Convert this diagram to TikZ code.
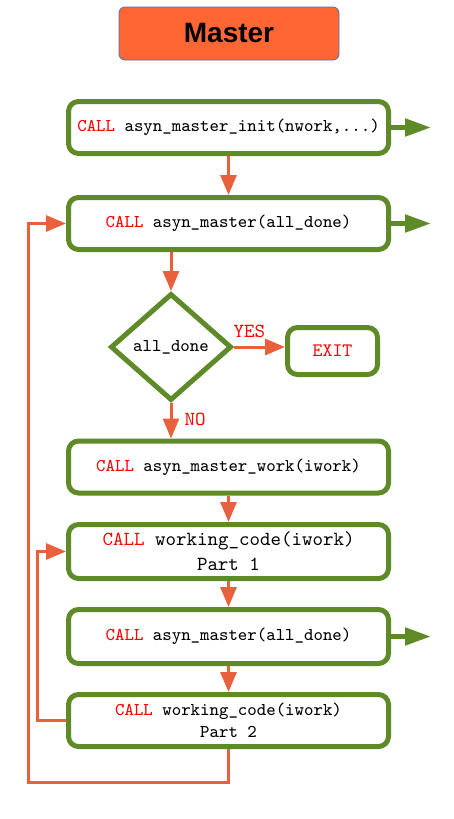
\documentclass[tikz,border=0pt]{standalone}
\usepackage{fontspec}
\newfontfamily\headfont{Liberation Sans}
\usepackage{tikz}
\usetikzlibrary{arrows.meta,shapes}
\usepackage{xcolor}
\definecolor{boxgreen}{HTML}{5E8A27}
\definecolor{flowred}{HTML}{E8603C}
\definecolor{headfill}{HTML}{FF6633}
\definecolor{headline}{HTML}{4A72B0}
\tikzset{
	flow/.style={draw=flowred, line width=1.5pt, -{Triangle[length=10pt,width=8pt]}},
	sendout/.style={draw=boxgreen, line width=2.5pt, -{Triangle[length=13pt,width=8.5pt]}}
}
\tikzstyle{callbox}=[draw=boxgreen, line width=2.5pt, rounded corners=5pt, fill=white, minimum width=160pt, minimum height=26pt, align=center, font=\fontsize{9}{11}\selectfont\ttfamily]
\tikzstyle{testbox}=[diamond, draw=boxgreen, line width=2.5pt, minimum width=60.5pt, minimum height=53.5pt, inner sep=0pt, font=\fontsize{9}{11}\selectfont\ttfamily]
\tikzstyle{flowlabel}=[text=red, font=\fontsize{10}{12}\selectfont\ttfamily, inner sep=1pt]
\newcommand{\callfn}[1]{\textcolor{red}{CALL} #1}

\begin{document}
\begin{tikzpicture}[x=0.5pt, y=-0.5pt]
	\useasboundingbox (0,0) rectangle (454,819);
	\node[draw=headline, fill=headfill, rounded corners=3pt, minimum width=110pt, minimum height=26.5pt, font=\fontsize{14}{16}\selectfont\headfont\bfseries] (head) at (229,33.5) {Master};
	\node[callbox] (init) at (228.5,127.5) {\callfn{asyn\_master\_init(nwork,...)}};
	\node[callbox] (poll) at (228.5,223.5) {\callfn{asyn\_master(all\_done)}};
	\node[testbox] (done) at (171,347) {all\_done};
	\node[draw=boxgreen, line width=2.5pt, rounded corners=5pt, minimum width=45pt, minimum height=23.5pt, text=red, font=\fontsize{9.5}{11}\selectfont\ttfamily] (exit) at (332.5,351) {EXIT};
	\node[callbox] (work) at (228.5,467) {\callfn{asyn\_master\_work(iwork)}};
	\node[callbox, minimum height=27pt, font=\fontsize{10}{12.5}\selectfont\ttfamily] (partone) at (228.5,551.5) {\callfn{working\_code(iwork)}\\Part 1};
	\node[callbox, minimum height=27pt] (polltwo) at (228.5,636.5) {\callfn{asyn\_master(all\_done)}};
	\node[callbox] (parttwo) at (228.5,720.5) {\callfn{working\_code(iwork)}\\Part 2};
	\coordinate (outer) at (28,782);
	\coordinate (inner) at (37,720.5);
	% down the column
	\draw[flow] (init) -- (poll);
	\draw[flow] (done.north |- poll.south) -- (done.north);
	\draw[flow] (done.east) -- node[flowlabel, above=3pt, pos=0.3] {YES} (done.east -| exit.west);
	\draw[flow] (done.south) -- node[flowlabel, right=5pt, pos=0.45] {NO} (done.south |- work.north);
	\draw[flow] (work) -- (partone);
	\draw[flow] (partone) -- (polltwo);
	\draw[flow] (polltwo) -- (parttwo);
	% loops back
	\draw[flow] (parttwo.west) -- (inner) |- (partone.west);
	\draw[flow] (parttwo.south) |- (outer) |- (poll.west);
	% messages out
	\draw[sendout] (init.east) -- ++(40,0);
	\draw[sendout] (poll.east) -- ++(40,0);
	\draw[sendout] (polltwo.east) -- ++(40,0);
\end{tikzpicture}
\end{document}
